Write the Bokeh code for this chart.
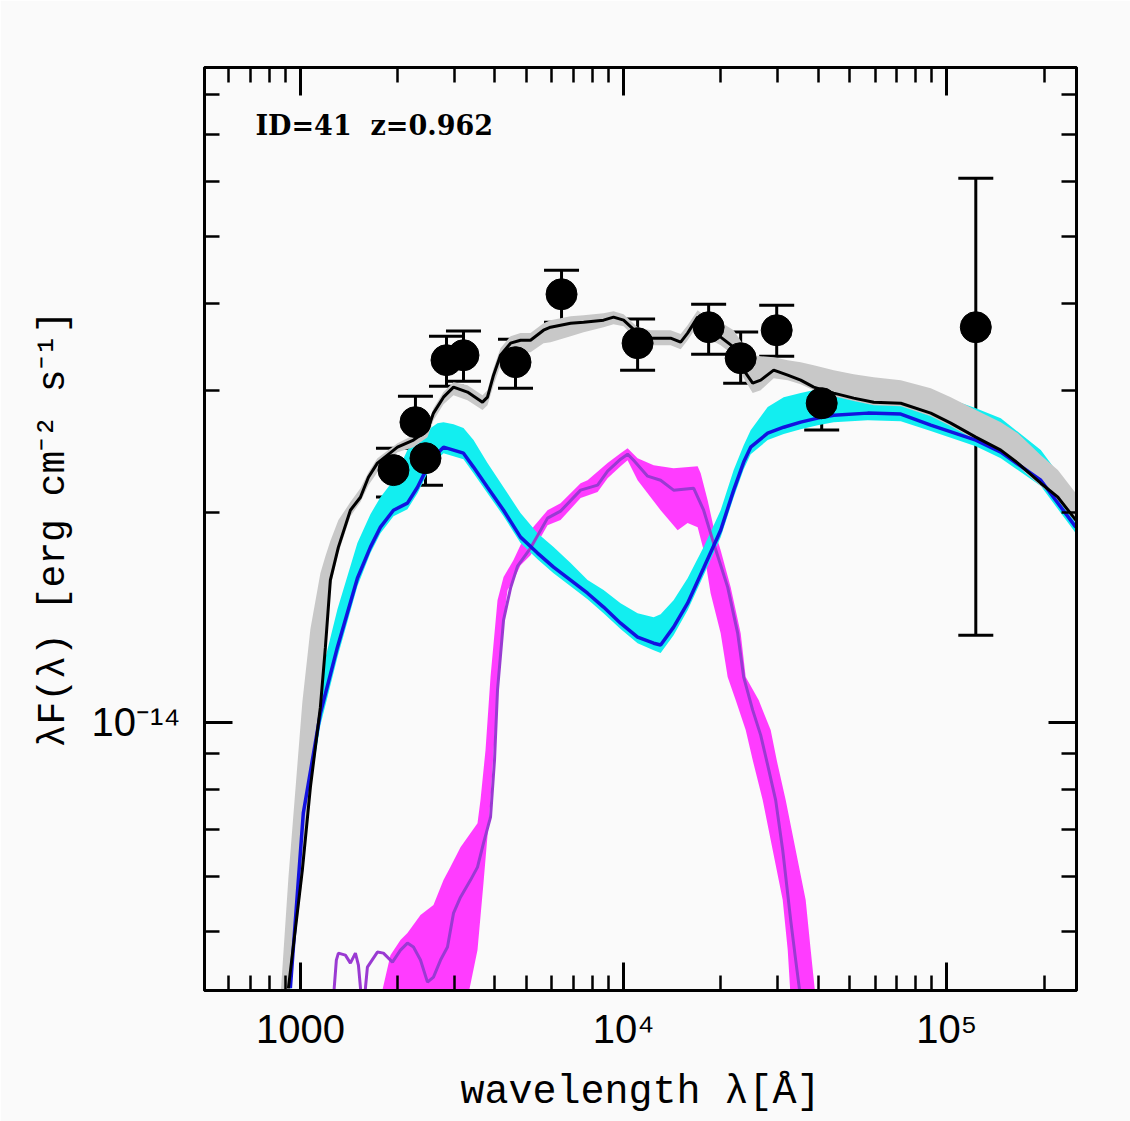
import numpy as np
from bokeh.plotting import figure
from bokeh.models import ColumnDataSource, FixedTicker, LogAxis, Whisker, TeeHead, Label
from bokeh.embed import file_html
from bokeh.resources import INLINE

UNIT = 1e-14  # fluxes below are in units of 1e-14 erg cm^-2 s^-1

# ---------------- photometry (rest-frame wavelength, Angstrom) ----------------
phot_lam = [1941, 2270, 2438, 2832, 3196, 4630, 6427, 11050, 18330, 23030, 29770, 41020, 122970]
phot_flux = [2.305, 2.702, 2.398, 3.318, 3.373, 3.296, 4.128, 3.510, 3.701, 3.340, 3.664, 2.877, 3.701]
phot_hi = [2.479, 2.945, 2.597, 3.593, 3.655, 3.557, 4.470, 3.802, 3.994, 3.642, 3.981, 3.105, 6.063]
phot_lo = [2.108, 2.479, 2.193, 3.044, 3.095, 3.024, 3.763, 3.209, 3.384, 3.074, 3.362, 2.632, 1.334]

# ---------------- total model (black) ----------------
tot_lam = [918, 1014, 1074, 1153, 1195, 1238, 1311, 1428, 1534, 1624, 1731, 1997, 2238, 2473, 2581,
           2772, 2977, 3289, 3660, 3792, 3959, 4161, 4469, 4799, 5153, 5653, 5943, 6856, 7521, 8670,
           9311, 10000, 11050, 12120, 13980, 15020, 15780, 16950, 18200, 19970, 21910, 23530, 25090,
           26560, 29140, 32200, 35320, 38750, 44690, 51520, 59430, 72060, 89230, 102900, 122970,
           146950, 165900, 195400, 220700, 250800]
tot_flux = [0.414, 0.6125, 0.8063, 1.051, 1.282, 1.601, 1.786, 2.018, 2.107, 2.251, 2.359, 2.487, 2.546,
            2.631, 2.784, 2.935, 3.034, 2.985, 2.887, 2.935, 3.157, 3.373, 3.510, 3.545, 3.545, 3.664,
            3.701, 3.750, 3.763, 3.788, 3.826, 3.788, 3.629, 3.569, 3.569, 3.522, 3.629, 3.826, 3.664,
            3.581, 3.464, 3.210, 3.074, 3.105, 3.210, 3.157, 3.105, 3.034, 2.975, 2.926, 2.887, 2.877,
            2.784, 2.693, 2.571, 2.463, 2.359, 2.207, 2.107, 1.953]

# grey uncertainty band of the total model
grey_lam = [867] + tot_lam
grey_hi = [0.40, 0.5966, 1.0685, 1.361, 1.638, 1.733, 1.822, 1.953, 2.073, 2.171, 2.289, 2.398, 2.520,
           2.588, 2.675, 2.830, 2.985, 3.085, 3.054, 2.954, 3.004, 3.231, 3.452, 3.593, 3.629, 3.629,
           3.750, 3.788, 3.838, 3.851, 3.877, 3.903, 3.864, 3.701, 3.664, 3.664, 3.617, 3.726, 3.916,
           3.813, 3.763, 3.664, 3.487, 3.373, 3.362, 3.351, 3.318, 3.296, 3.263, 3.210, 3.167, 3.136,
           3.105, 3.024, 2.935, 2.812, 2.702, 2.605, 2.422, 2.305, 2.135]
grey_lo = [0.30, 0.40, 0.5925, 0.7852, 1.0337, 1.2611, 1.564, 1.751, 1.979, 2.073, 2.193, 2.289, 2.446,
           2.487, 2.571, 2.720, 2.868, 2.954, 2.906, 2.812, 2.858, 3.054, 3.263, 3.362, 3.396, 3.407,
           3.510, 3.522, 3.593, 3.640, 3.701, 3.738, 3.713, 3.545, 3.487, 3.487, 3.441, 3.545, 3.726,
           3.569, 3.487, 3.373, 3.126, 2.975, 3.004, 3.126, 3.105, 3.063, 3.004, 2.944, 2.897, 2.858,
           2.849, 2.756, 2.666, 2.546, 2.438, 2.335, 2.186, 2.086, 1.934]

# ---------------- blue component with cyan band ----------------
blue_lam = [931, 1021, 1153, 1302, 1501, 1647, 1769, 1941, 2144, 2303, 2473, 2656, 2772, 2977, 3196,
            3433, 3792, 4252, 4799, 5417, 6072, 6856, 7737, 8670, 9788, 11050, 12390, 13020, 14280,
            15780, 17690, 19970, 21910, 23530, 24730, 27920, 31290, 35320, 39870, 44690, 56930, 72060,
            89230, 122970, 146950, 195400, 250800]
blue_flux = [0.4142, 0.7397, 1.030, 1.282, 1.611, 1.786, 1.908, 2.018, 2.066, 2.178, 2.328, 2.438, 2.487,
             2.463, 2.438, 2.328, 2.178, 2.018, 1.846, 1.751, 1.671, 1.601, 1.533, 1.464, 1.388, 1.325,
             1.299, 1.291, 1.370, 1.483, 1.666, 1.889, 2.157, 2.367, 2.487, 2.605, 2.657, 2.702, 2.738,
             2.765, 2.784, 2.775, 2.675, 2.546, 2.446, 2.229, 1.908]
cyan_hi = [0.5455, 0.8447, 1.157, 1.454, 1.810, 1.992, 2.107, 2.229, 2.463, 2.546, 2.631, 2.693, 2.702,
           2.684, 2.649, 2.546, 2.359, 2.178, 1.999, 1.870, 1.786, 1.694, 1.601, 1.549, 1.483, 1.435,
           1.416, 1.430, 1.498, 1.611, 1.786, 2.018, 2.305, 2.503, 2.631, 2.840, 2.935, 2.975, 3.014,
           3.034, 3.054, 3.063, 2.985, 2.830, 2.738, 2.463, 2.107]
cyan_lo = [0.4047, 0.6991, 0.990, 1.240, 1.569, 1.751, 1.870, 1.979, 2.025, 2.135, 2.281, 2.390, 2.438,
           2.414, 2.390, 2.281, 2.135, 1.979, 1.810, 1.716, 1.638, 1.569, 1.503, 1.435, 1.361, 1.299,
           1.269, 1.257, 1.334, 1.449, 1.627, 1.846, 2.107, 2.312, 2.430, 2.546, 2.597, 2.640, 2.675,
           2.702, 2.720, 2.711, 2.623, 2.495, 2.398, 2.186, 1.870]

# ---------------- magenta component (band edges) and purple line ----------------
mag_hi_lam = [1769, 1899, 2040, 2144, 2353, 2581, 2772, 2912, 3129, 3532, 3608, 3739, 3875, 4073, 4252,
              4565, 4799, 5153, 5817, 6382, 7362, 7737, 8923, 9788, 10290, 11050, 12390, 14280, 16950,
              17320, 18200, 18990, 19970, 21450, 23030, 23870, 26180, 28520, 29770, 31740, 34080, 36600,
              37930, 39310]
mag_hi_flux = [0.40, 0.4621, 0.4857, 0.4971, 0.5276, 0.5455, 0.5925, 0.6186, 0.6608, 0.7155, 0.7724,
               0.9113, 1.161, 1.498, 1.617, 1.711, 1.798, 1.889, 2.018, 2.066, 2.207, 2.229, 2.359, 2.438,
               2.479, 2.398, 2.343, 2.320, 2.335, 2.281, 2.086, 1.908, 1.768, 1.564, 1.343, 1.161, 1.076,
               0.9739, 0.8818, 0.7724, 0.6547, 0.5545, 0.4699, 0.40]
mag_lo_lam = [1769, 3289, 3532, 3686, 3875, 4016, 4161, 4252, 4375, 4565, 4799, 5153, 5817, 6382, 7362,
              8309, 8923, 9788, 10290, 11050, 13020, 14700, 15780, 16950, 17690, 18590, 19970, 20990,
              22220, 23870, 25090, 26940, 28930, 31070, 32200, 32890]
mag_lo_flux = [0.40, 0.40, 0.4699, 0.5867, 0.7724, 1.0066, 1.269, 1.402, 1.549, 1.601, 1.682, 1.739,
               1.920, 1.953, 2.101, 2.143, 2.244, 2.335, 2.382, 2.229, 2.018, 1.889, 1.934, 1.908, 1.768,
               1.533, 1.343, 1.161, 1.076, 0.9739, 0.8818, 0.7724, 0.6547, 0.5545, 0.4699, 0.40]
pur_lam = [1265, 1292, 1311, 1378, 1428, 1480, 1512, 1545, 1578, 1612, 1731, 1807, 1927, 2040, 2144,
           2238, 2353, 2473, 2581, 2714, 2852, 2977, 3129, 3360, 3532, 3686, 3875, 3987, 4073, 4252,
           4469, 4697, 5153, 5817, 6382, 7362, 8309, 8923, 9788, 10290, 10740, 11870, 13020, 14280,
           16470, 17690, 18990, 20990, 22540, 23530, 25090, 26560, 27920, 29550, 31070, 32890, 34080,
           35320]
pur_flux = [0.40, 0.4546, 0.4652, 0.4621, 0.4500, 0.4652, 0.4470, 0.40, 0.40, 0.4441, 0.4668, 0.4652,
            0.4516, 0.4699, 0.4809, 0.4746, 0.4546, 0.4225, 0.4297, 0.4546, 0.4746, 0.5311, 0.5600, 0.5925,
            0.6186, 0.6697, 0.7299, 0.8818, 1.112, 1.402, 1.559, 1.677, 1.780, 1.966, 2.012, 2.157, 2.193,
            2.297, 2.390, 2.430, 2.382, 2.259, 2.229, 2.157, 2.171, 2.018, 1.810, 1.564, 1.343, 1.161,
            1.0406, 0.9578, 0.8672, 0.7724, 0.6547, 0.5189, 0.4546, 0.40]

# ---------------- axes ----------------
x_major = [1000, 10000, 100000]
x_minor = [600, 700, 800, 900, 2000, 3000, 4000, 5000, 6000, 7000, 8000, 9000,
           20000, 30000, 40000, 50000, 60000, 70000, 80000, 90000, 200000]
x_labels = {1000: "1000", 10000: "10\u2074", 100000: "10\u2075"}
y_major = [1e-14]
y_minor = [5e-15, 6e-15, 7e-15, 8e-15, 9e-15, 2e-14, 3e-14, 4e-14, 5e-14, 6e-14, 7e-14, 8e-14]
y_labels = {1e-14: "10\u207b\u00b9\u2074"}


def f(a):
    return (np.asarray(a, dtype=float) * UNIT).tolist()


BG = "#fafafa"
p = figure(width=1130, height=1121, x_axis_type="log", y_axis_type="log",
           x_range=(505, 252000), y_range=(4.11e-15, 8.75e-14),
           output_backend="svg", toolbar_location=None,
           min_border_left=204, min_border_right=54, min_border_top=67, min_border_bottom=131,
           background_fill_color=BG, border_fill_color=BG)
p.grid.visible = False
p.outline_line_color = "black"
p.outline_line_width = 3

# bands
p.patch(x=mag_hi_lam + mag_lo_lam[::-1], y=f(mag_hi_flux + mag_lo_flux[::-1]),
        fill_color="#ff3cff", line_color=None)
p.varea(x=blue_lam, y1=f(cyan_lo), y2=f(cyan_hi), fill_color="#12eef0")
p.varea(x=grey_lam, y1=f(grey_lo), y2=f(grey_hi), fill_color="#c8c8c8")

# lines
p.line(pur_lam, f(pur_flux), line_color="#9a3ad2", line_width=3)
p.line(blue_lam, f(blue_flux), line_color="#1212e0", line_width=3.5)
p.line(tot_lam, f(tot_flux), line_color="black", line_width=3)

# photometry with error bars
src = ColumnDataSource(dict(x=phot_lam, y=f(phot_flux), upper=f(phot_hi), lower=f(phot_lo)))
p.add_layout(Whisker(source=src, base="x", upper="upper", lower="lower", dimension="height",
                     line_color="black", line_width=3,
                     upper_head=TeeHead(size=35, line_width=3, line_color="black"),
                     lower_head=TeeHead(size=35, line_width=3, line_color="black")))
p.scatter("x", "y", source=src, marker="circle", size=31, color="black")

p.add_layout(Label(x=726, y=7.23e-14, text="ID=41\u00a0\u00a0z=0.962", text_font="DejaVu Serif",
                   text_font_style="bold", text_font_size="27px", text_baseline="middle",
                   text_color="black"))

xticker = FixedTicker(ticks=x_major, minor_ticks=x_minor)
yticker = FixedTicker(ticks=y_major, minor_ticks=y_minor)


def style_axis(ax):
    ax.major_tick_in = 28
    ax.major_tick_out = 0
    ax.minor_tick_in = 15
    ax.minor_tick_out = 0
    ax.major_tick_line_width = 3
    ax.minor_tick_line_width = 2.5
    ax.axis_line_width = 3
    ax.major_tick_line_color = "black"
    ax.minor_tick_line_color = "black"
    ax.axis_line_color = "black"
    ax.major_label_text_font = "Liberation Sans"
    ax.major_label_text_font_size = "40px"
    ax.major_label_text_color = "black"
    ax.axis_label_text_font = "Liberation Mono"
    ax.axis_label_text_font_style = "normal"
    ax.axis_label_text_color = "black"


xa = p.xaxis[0]
xa.ticker = xticker
xa.major_label_overrides = x_labels
xa.axis_label = "wavelength \u03bb[\u00c5]"
style_axis(xa)
xa.axis_label_text_font_size = "40px"
xa.major_label_standoff = 16
xa.axis_label_standoff = 16

ya = p.yaxis[0]
ya.ticker = yticker
ya.major_label_overrides = y_labels
ya.axis_label = "\u03bbF(\u03bb) [erg cm\u207b\u00b2 s\u207b\u00b9]"
style_axis(ya)
ya.axis_label_text_font_size = "38px"
ya.major_label_standoff = 24
ya.axis_label_standoff = 14

top = LogAxis(ticker=xticker)
style_axis(top)
top.major_label_text_alpha = 0
top.major_label_text_font_size = "8px"
top.major_label_standoff = 0
p.add_layout(top, "above")

right = LogAxis(ticker=yticker)
style_axis(right)
right.major_label_text_alpha = 0
right.major_label_text_font_size = "8px"
right.major_label_standoff = 0
p.add_layout(right, "right")

open("out.html", "w").write(file_html(p, INLINE))
